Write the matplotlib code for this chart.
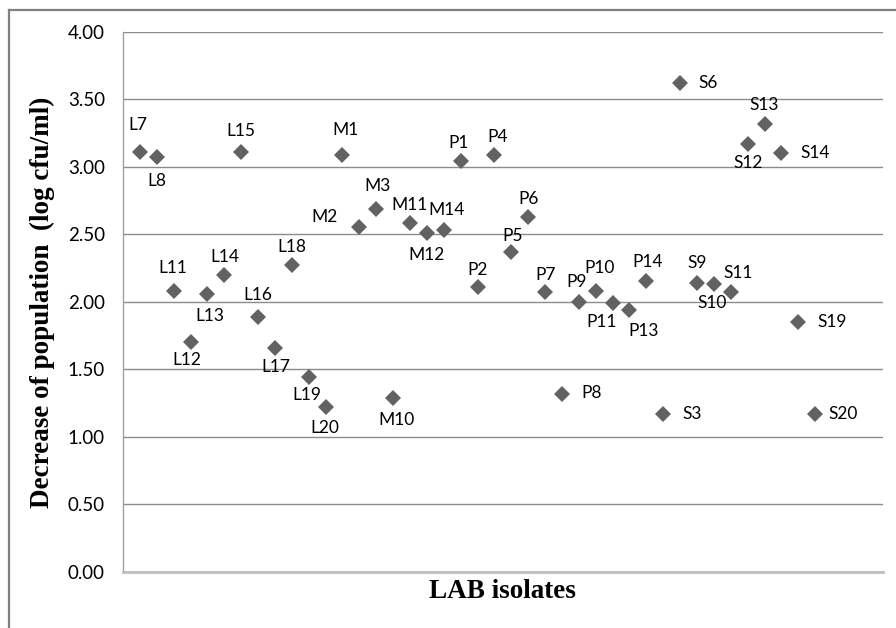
import matplotlib
matplotlib.use("Agg")
import matplotlib.pyplot as plt
from matplotlib.lines import Line2D

# isolate names and decrease of population (log cfu/ml)
isolates = ["L7", "L8", "L11", "L12", "L13", "L14", "L15", "L16", "L17", "L18",
            "L19", "L20", "M1", "M2", "M3", "M10", "M11", "M12", "M14", "P1",
            "P2", "P4", "P5", "P6", "P7", "P8", "P9", "P10", "P11", "P13",
            "P14", "S3", "S6", "S9", "S10", "S11", "S12", "S13", "S14", "S19", "S20"]
decrease = [3.11, 3.07, 2.08, 1.70, 2.06, 2.20, 3.11, 1.89, 1.66, 2.27,
            1.44, 1.22, 3.09, 2.55, 2.69, 1.29, 2.58, 2.51, 2.53, 3.04,
            2.11, 3.09, 2.37, 2.63, 2.07, 1.32, 2.00, 2.08, 1.99, 1.94,
            2.15, 1.17, 3.62, 2.14, 2.13, 2.07, 3.17, 3.32, 3.10, 1.85, 1.17]
yticks = [0.0, 0.5, 1.0, 1.5, 2.0, 2.5, 3.0, 3.5, 4.0]

# label placement, pixel offsets from the marker (dx, dy, ha)
label_pos = {
    "L7": (-2, 27, "center"), "L8": (0, -24, "center"), "L11": (-1, 23, "center"),
    "L12": (-4, -18, "center"), "L13": (2, -22, "center"), "L14": (1, 18, "center"),
    "L15": (0, 21, "center"), "L16": (0, 22, "center"), "L17": (1, -19, "center"),
    "L18": (0, 18, "center"), "L19": (-2, -18, "center"), "L20": (-1, -21, "center"),
    "M1": (3, 25, "center"), "M2": (-35, 10, "center"), "M3": (1, 23, "center"),
    "M10": (3, -22, "center"), "M11": (0, 18, "center"), "M12": (0, -22, "center"),
    "M14": (3, 20, "center"), "P1": (-2, 18, "center"), "P2": (0, 17, "center"),
    "P4": (3, 18, "center"), "P5": (1, 16, "center"), "P6": (0, 18, "center"),
    "P7": (1, 17, "center"), "P8": (19, 0, "left"), "P9": (-2, 20, "center"),
    "P10": (4, 23, "center"), "P11": (-11, -19, "center"), "P13": (14, -21, "center"),
    "P14": (1, 19, "center"), "S3": (19, 0, "left"), "S6": (18, 0, "left"),
    "S9": (0, 20, "center"), "S10": (-2, -19, "center"), "S11": (7, 19, "center"),
    "S12": (0, -19, "center"), "S13": (0, 18, "center"), "S14": (19, 0, "left"),
    "S19": (19, 0, "left"), "S20": (13, 0, "left"),
}

fig = plt.figure(figsize=(8.96, 6.28), dpi=100)
ax = fig.add_axes([123 / 896, 1 - 571.7 / 628, 759.7 / 896, 540 / 628])

x = list(range(1, len(isolates) + 1))
ax.plot(x, decrease, linestyle="none", marker="D", markersize=8.5,
        color="#626262", markeredgewidth=0, zorder=3)

for xi, yi, name in zip(x, decrease, isolates):
    dx, dy, ha = label_pos[name]
    ax.annotate(name, (xi, yi), xytext=(dx, dy), textcoords="offset pixels",
                ha=ha, va="center", fontsize=12.5, family="Lato", color="black")

ax.set_xlim(0, 45)
ax.set_ylim(0, 4)
ax.set_xticks([])
ax.set_yticks(yticks)
ax.set_yticklabels(["%.2f" % t for t in yticks], family="Lato", fontsize=13.5)
ax.tick_params(axis="y", length=0, pad=13)
ax.yaxis.grid(True, color="#8c8c8c", linewidth=1.0)
ax.set_axisbelow(True)

for side in ["top", "right"]:
    ax.spines[side].set_visible(False)
ax.spines["left"].set_color("#a0a0a0")
ax.spines["left"].set_linewidth(1.0)
ax.spines["bottom"].set_color("#bfbfbf")
ax.spines["bottom"].set_linewidth(2.0)

fig.text(42 / 896, 1 - 302 / 628, "Decrease of population  (log cfu/ml)",
         rotation=90, ha="center", va="center", family="Liberation Serif",
         fontweight="bold", fontsize=19.5)
fig.text(502 / 896, 1 - 592 / 628, "LAB isolates", ha="center", va="center",
         family="Liberation Serif", fontweight="bold", fontsize=19.5)

# chart area border (only left and top edges fall inside the picture)
fig.add_artist(Line2D([8.5 / 896, 8.5 / 896], [0, 1 - 10 / 628],
                      transform=fig.transFigure, color="#7f7f7f", linewidth=1.6))
fig.add_artist(Line2D([8.5 / 896, 1], [1 - 10 / 628, 1 - 10 / 628],
                      transform=fig.transFigure, color="#7f7f7f", linewidth=1.6))

fig.savefig("out.png", dpi=100)
